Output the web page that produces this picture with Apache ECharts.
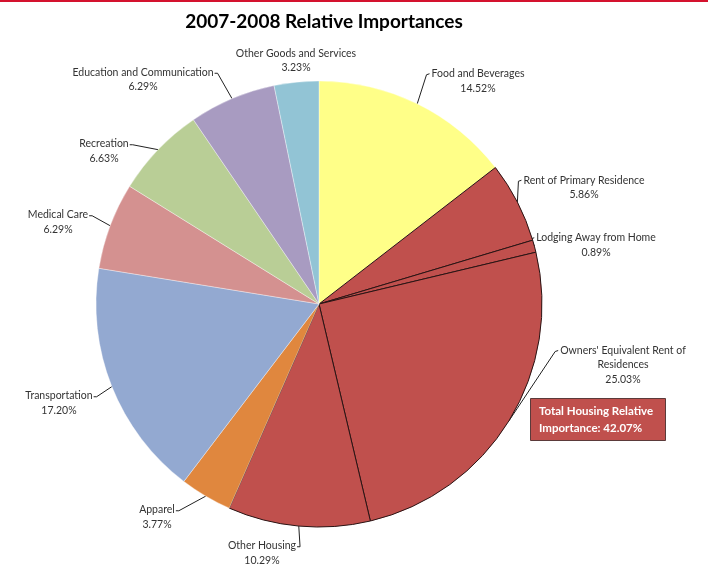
<!DOCTYPE html>
<html>
<head>
<meta charset="utf-8">
<script src="https://cdn.jsdelivr.net/npm/echarts@6/dist/echarts.min.js"></script>
<style>
html,body{margin:0;padding:0;background:#fff;}
#chart{width:708px;height:573px;}
</style>
</head>
<body>
<div id="chart"></div>
<script>
// ---- data ----
var categories = [
  'Food and Beverages',
  'Rent of Primary Residence',
  'Lodging Away from Home',
  "Owners' Equivalent Rent of Residences",
  'Other Housing',
  'Apparel',
  'Transportation',
  'Medical Care',
  'Recreation',
  'Education and Communication',
  'Other Goods and Services'
];
var values = [14.52, 5.86, 0.89, 25.03, 10.29, 3.77, 17.20, 6.29, 6.63, 6.29, 3.23];
var housingCategories = ['Rent of Primary Residence', 'Lodging Away from Home', "Owners' Equivalent Rent of Residences", 'Other Housing'];

// ---- styles / layout ----
var colors = ['#FFFF88', '#C0504D', '#C0504D', '#C0504D', '#C0504D', '#E0873E', '#93A9D1', '#D49190', '#B9CE96', '#A89BC1', '#92C4D5'];
var labelPos = [
  [478, 81], [584, 187.5], [596, 245], [623, 365], [262, 553], [157, 517],
  [59, 403], [58, 222], [104, 151], [143, 79.5], [296, 60.5]
];
var CX = 319, CY = 304, R = 223;

var housingTotal = 0;
values.forEach(function (v, i) { if (housingCategories.indexOf(categories[i]) >= 0) housingTotal += v; });

function wrapName(n) {
  if (n.length <= 30) return n;
  var k = n.lastIndexOf(' ', 27);
  return n.slice(0, k) + '\n' + n.slice(k + 1);
}

var total = values.reduce(function (a, b) { return a + b; }, 0);
function edgePoint(i) {
  var before = 0;
  for (var j = 0; j < i; j++) before += values[j];
  var mid = (before + values[i] / 2) / total * Math.PI * 2;
  return [CX + R * Math.sin(mid), CY - R * Math.cos(mid)];
}

var seriesData = categories.map(function (c, i) {
  var housing = housingCategories.indexOf(c) >= 0;
  return {
    name: c,
    value: values[i],
    itemStyle: {
      color: colors[i],
      borderColor: housing ? '#2a1414' : 'rgba(255,255,255,0.6)',
      borderWidth: housing ? 1 : 0.6
    },
    labelLine: { show: i !== 10 }
  };
});

var chart = echarts.init(document.getElementById('chart'));
chart.setOption({
  backgroundColor: '#ffffff',
  animation: false,
  title: {
    text: '2007-2008 Relative Importances',
    left: 319, top: 7, textAlign: 'center',
    textStyle: { fontFamily: 'Lato', fontWeight: 'bold', fontSize: 19, color: '#000' }
  },
  graphic: [
    { type: 'rect', shape: { x: 0, y: 0, width: 708, height: 2 }, style: { fill: '#D4122E' } },
    {
      type: 'rect', shape: { x: 530.5, y: 398.5, width: 135, height: 42 },
      style: { fill: '#C0504D', stroke: '#5b3a3a', lineWidth: 1 }
    },
    {
      type: 'text', left: 539, top: 403,
      style: {
        text: 'Total Housing Relative\nImportance: ' + housingTotal.toFixed(2) + '%',
        fill: '#fff', font: 'bold 11.5px Lato', lineHeight: 17
      }
    }
  ],
  series: [{
    type: 'pie',
    center: [CX, CY],
    radius: R,
    startAngle: 90,
    clockwise: true,
    avoidLabelOverlap: false,
    data: seriesData,
    label: {
      show: true,
      position: 'outside',
      formatter: function (p) { return wrapName(p.name) + '\n' + p.value.toFixed(2) + '%'; },
      fontFamily: 'Lato', fontSize: 10.5, lineHeight: 14.5, color: '#333', align: 'center'
    },
    labelLine: { show: true, length: 5, length2: 5, lineStyle: { color: '#222', width: 1 } },
    emphasis: { disabled: true },
    labelLayout: function (params) {
      var i = params.dataIndex;
      var p = labelPos[i];
      var r = params.labelRect;
      var nLines = (params.text || '').split('\n').length || 2;
      var lh = r.height / nLines;
      var firstY = p[1] - r.height / 2 + lh / 2 + 1;
      var e = edgePoint(i);
      var pts;
      if (p[0] > e[0] + 15) {
        var lx = p[0] - r.width / 2 - 2;
        pts = [e, [lx - 3, firstY], [lx, firstY - 1]];
      } else {
        var rx = p[0] + r.width / 2 + 1;
        pts = [e, [rx + 3, firstY], [rx, firstY]];
      }
      return { x: p[0], y: p[1], align: 'center', verticalAlign: 'middle', labelLinePoints: pts };
    }
  }]
});
</script>
</body>
</html>
